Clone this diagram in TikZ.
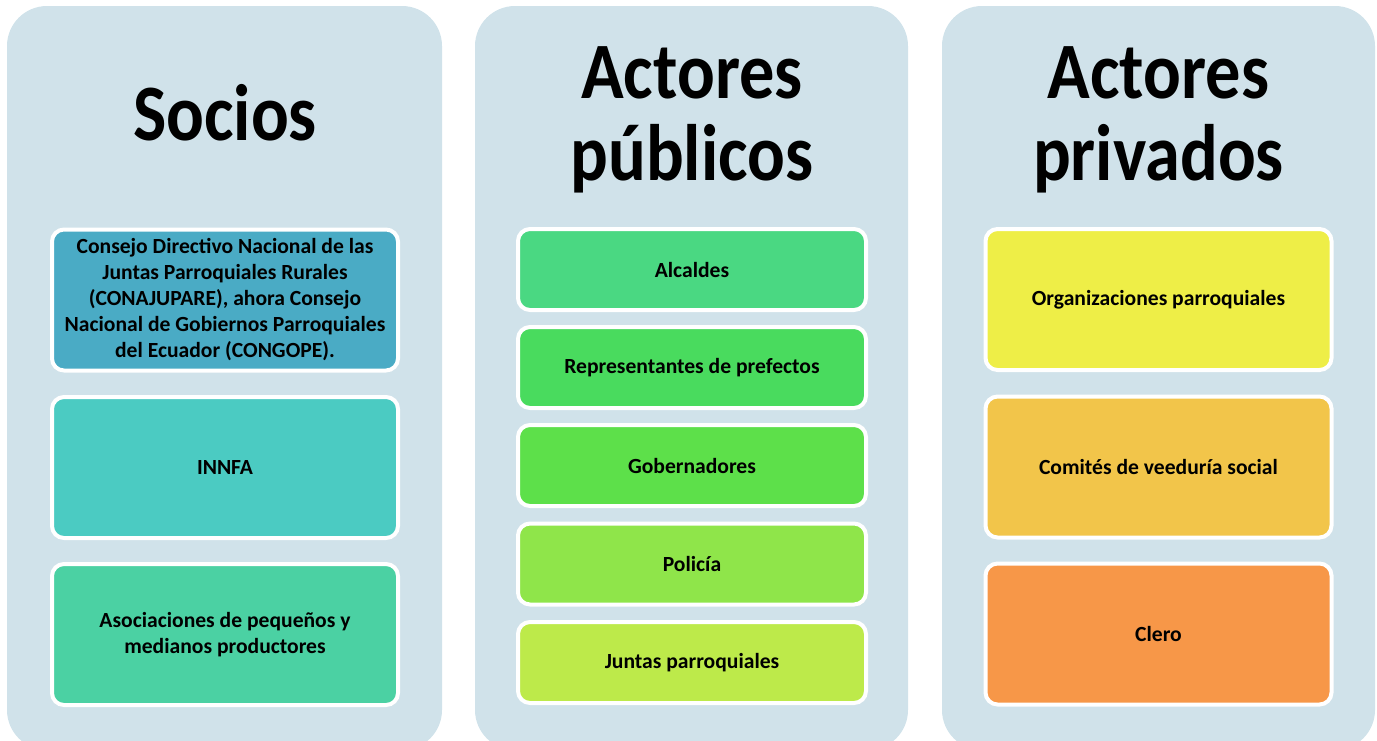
\documentclass[tikz,border=0pt]{standalone}
\usepackage{fontspec}
\setmainfont{Carlito}
\definecolor{panel}{HTML}{D0E2EA}
\definecolor{cA}{HTML}{4AABC5}
\definecolor{cB}{HTML}{4BCBC2}
\definecolor{cC}{HTML}{4BD1A3}
\definecolor{cD}{HTML}{4AD882}
\definecolor{cE}{HTML}{49DB5E}
\definecolor{cF}{HTML}{5DE04A}
\definecolor{cG}{HTML}{8FE54A}
\definecolor{cH}{HTML}{BDEA4A}
\definecolor{cI}{HTML}{EEEE47}
\definecolor{cJ}{HTML}{F2C54A}
\definecolor{cK}{HTML}{F79748}
\newcommand{\ttl}[1]{\scalebox{0.88}[1]{#1}}
\tikzset{
  panelbox/.style={fill=panel, rounded corners=20pt},
  itembox/.style={draw=white, line width=2pt, rounded corners=6pt, align=center,
    font=\bfseries\fontsize{10.8}{13}\selectfont, text=black, inner sep=2pt},
  tallbox/.style={itembox, minimum width=173pt, minimum height=70.5pt},
  midbox/.style={itembox, minimum width=174pt, minimum height=40.5pt},
  title/.style={font=\bfseries\fontsize{40}{41}\selectfont, anchor=base, inner sep=0pt},
}
\begin{document}
\begin{tikzpicture}[x=0.5pt,y=-0.5pt]
\useasboundingbox (0,0) rectangle (1377,740);
\begin{scope}
\clip (0,0) rectangle (1377,740);
\path[panelbox] (7,6) rectangle (442,750);
\path[panelbox] (475,6) rectangle (908,750);
\path[panelbox] (942,6) rectangle (1375,750);
\end{scope}
% titles
\node[title] (t1) at (225,140) {\ttl{Socios}};
\node[title] (t2a) at (692,98) {\ttl{Actores}};
\node[title] (t2b) at (692,180) {\ttl{públicos}};
\node[title] (t3a) at (1158.5,98) {\ttl{Actores}};
\node[title] (t3b) at (1158.5,180) {\ttl{privados}};
% left column
\node[tallbox, fill=cA] (s1) at (225,300) {Consejo Directivo Nacional de las\\Juntas Parroquiales Rurales\\(CONAJUPARE), ahora Consejo\\Nacional de Gobiernos Parroquiales\\del Ecuador (CONGOPE).};
\node[tallbox, fill=cB] (s2) at (225,467.5) {INNFA};
\node[tallbox, fill=cC] (s3) at (225,634.5) {Asociaciones de pequeños y\\medianos productores};
% middle column
\node[midbox, fill=cD] (p1) at (692,269.5) {Alcaldes};
\node[midbox, fill=cE] (p2) at (692,367.5) {Representantes de prefectos};
\node[midbox, fill=cF] (p3) at (692,465.5) {Gobernadores};
\node[midbox, fill=cG] (p4) at (692,564) {Policía};
\node[midbox, fill=cH] (p5) at (692,662.5) {Juntas parroquiales};
% right column
\node[tallbox, fill=cI] (r1) at (1158.5,299.5) {Organizaciones parroquiales};
\node[tallbox, fill=cJ] (r2) at (1158.5,467) {Comités de veeduría social};
\node[tallbox, fill=cK] (r3) at (1158.5,634) {Clero};
\end{tikzpicture}
\end{document}
